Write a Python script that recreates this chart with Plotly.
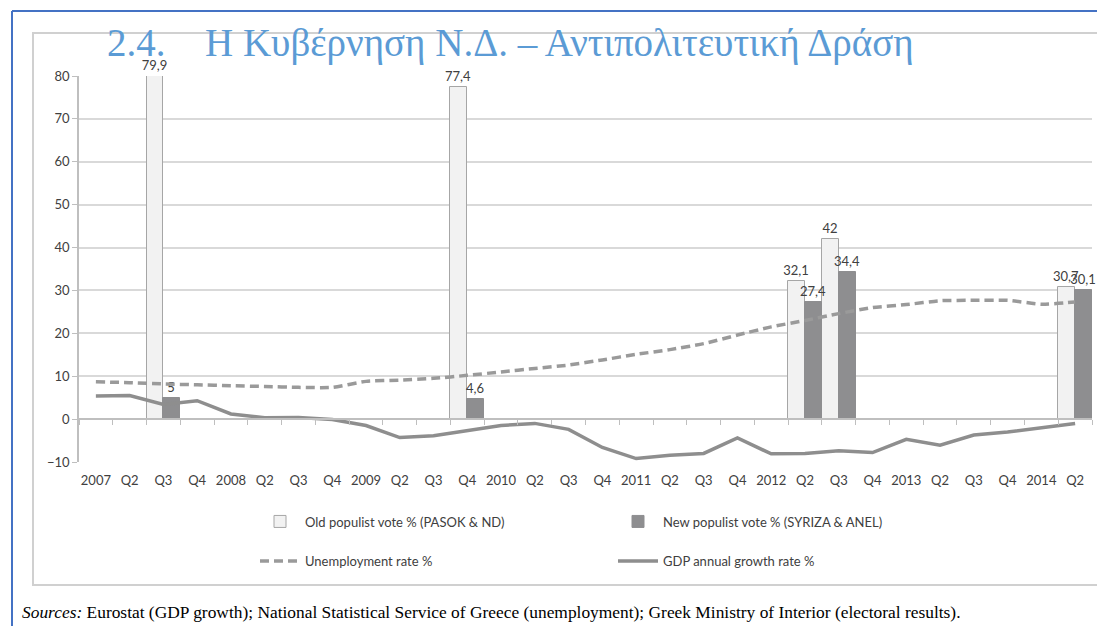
import plotly.graph_objects as go

# ---------------- data ----------------
quarters = ["2007", "Q2", "Q3", "Q4", "2008", "Q2", "Q3", "Q4", "2009", "Q2", "Q3", "Q4",
            "2010", "Q2", "Q3", "Q4", "2011", "Q2", "Q3", "Q4", "2012", "Q2", "Q3", "Q4",
            "2013", "Q2", "Q3", "Q4", "2014", "Q2"]

old_vote = [None, None, 79.9, None, None, None, None, None, None, None, None, 77.4,
            None, None, None, None, None, None, None, None, None, 32.1, 42, None,
            None, None, None, None, None, 30.7]

new_vote = [None, None, 5, None, None, None, None, None, None, None, None, 4.6,
            None, None, None, None, None, None, None, None, None, 27.4, 34.4, None,
            None, None, None, None, None, 30.1]

unemployment = [8.7, 8.5, 8.2, 8.0, 7.8, 7.6, 7.4, 7.4, 8.8, 9.1, 9.5, 10.2,
                11.0, 11.8, 12.6, 13.8, 15.1, 16.2, 17.6, 19.6, 21.5, 23.0, 24.6, 26.0,
                26.7, 27.6, 27.7, 27.7, 26.8, 27.3]

gdp_growth = [5.4, 5.5, 3.4, 4.3, 1.2, 0.3, 0.4, -0.1, -1.5, -4.3, -3.9, -2.6,
              -1.5, -1.0, -2.4, -6.6, -9.2, -8.4, -8.0, -4.4, -8.1, -8.0, -7.4, -7.8,
              -4.7, -6.1, -3.7, -3.0, -2.0, -1.0]

names = ["Old populist vote % (PASOK & ND)", "New populist vote % (SYRIZA & ANEL)",
         "Unemployment rate %", "GDP annual growth rate %"]

idx = list(range(len(quarters)))

FONT = "Lato"
TXT = "#404040"

fig = go.Figure()
fig.add_trace(go.Bar(
    x=idx, y=old_vote, name=names[0], legend="legend",
    marker=dict(color="#f2f2f2", line=dict(color="#a6a6a6", width=1)),
    texttemplate="%{y}", textposition="outside", cliponaxis=False,
    constraintext="none",
    textfont=dict(family=FONT, size=13, color=TXT)))
fig.add_trace(go.Bar(
    x=idx, y=new_vote, name=names[1], legend="legend",
    marker=dict(color="#8e8e90", line=dict(color="#8e8e90", width=1)),
    texttemplate="%{y}", textposition="outside", cliponaxis=False,
    constraintext="none",
    textfont=dict(family=FONT, size=13, color=TXT)))
fig.add_trace(go.Scatter(
    x=idx, y=unemployment, name=names[2], legend="legend2", xaxis="x2",
    mode="lines", line=dict(color="#9a9a9a", width=3.5, dash="9px,5px",
                            shape="spline", smoothing=0.6)))
fig.add_trace(go.Scatter(
    x=idx, y=gdp_growth, name=names[3], legend="legend2", xaxis="x2",
    mode="lines", line=dict(color="#8e8e8e", width=3.5)))

# The page body has an 8px margin, so the figure is drawn 8px right/down.
OFF = 8
W, H = 1105 - 2 * OFF, 634 - 2 * OFF
# plot area in screen pixels
L, R, T, B = 79, 1092, 76, 462
def px_x(p):
    return (p - L) / (R - L)
def px_y(p):
    return (B - p) / (B - T)

rng = [-0.5, len(quarters) - 0.5]
LEG = dict(orientation="h", xanchor="left", yanchor="middle",
           entrywidth=303, entrywidthmode="pixels", itemwidth=40,
           font=dict(family=FONT, size=13, color=TXT), bgcolor="rgba(0,0,0,0)")
fig.update_layout(
    width=W, height=H,
    margin=dict(l=L - OFF, r=W - (R - OFF), t=T - OFF, b=H - (B - OFF), autoexpand=False),
    paper_bgcolor="white", plot_bgcolor="white",
    separators=",.",
    barmode="group", bargap=0, bargroupgap=0,
    font=dict(family=FONT, size=13, color=TXT),
    xaxis=dict(range=rng, tickvals=idx, ticktext=quarters, showgrid=False,
               showline=False, ticks="", zeroline=False, ticklabelstandoff=9,
               tickfont=dict(family=FONT, size=13, color=TXT)),
    xaxis2=dict(range=rng, overlaying="x", anchor="free", position=px_y(419),
                showticklabels=False, showgrid=False, zeroline=False,
                showline=True, linecolor="#bfbfbf", linewidth=1.5,
                tickvals=[i - 0.5 for i in range(len(quarters) + 1)],
                ticks="outside", ticklen=5, tickcolor="#bfbfbf"),
    yaxis=dict(range=[-10, 80], dtick=10, showgrid=True, gridcolor="#d9d9d9",
               gridwidth=1.5, zeroline=False, showline=True, linecolor="#bfbfbf",
               linewidth=1.5, ticks="outside", ticklen=5, tickcolor="#bfbfbf",
               tickfont=dict(family=FONT, size=13, color=TXT)),
    legend=dict(LEG, x=px_x(255), y=px_y(521.5)),
    legend2=dict(LEG, x=px_x(255), y=px_y(561)),
    showlegend=True,
)

# frames
fig.add_shape(type="rect", xref="paper", yref="paper",
              x0=px_x(33), x1=px_x(1140), y0=px_y(585), y1=px_y(33),
              line=dict(color="#d0d0d0", width=2), layer="below")
fig.add_shape(type="line", xref="paper", yref="paper",
              x0=px_x(12), x1=px_x(1140), y0=px_y(11), y1=px_y(11),
              line=dict(color="#4472c4", width=2))
fig.add_shape(type="line", xref="paper", yref="paper",
              x0=px_x(12), x1=px_x(12), y0=px_y(11), y1=px_y(660),
              line=dict(color="#4472c4", width=2))

# title
TITLE_FONT = dict(family="Liberation Serif", size=39, color="#5b9bd5")
fig.add_annotation(text="2.4.", xref="paper", yref="paper", x=px_x(105), y=px_y(43),
                   xanchor="left", yanchor="middle", showarrow=False, font=TITLE_FONT)
fig.add_annotation(text="Η Κυβέρνηση Ν.Δ. – Αντιπολιτευτική Δράση", xref="paper",
                   yref="paper", x=px_x(203), y=px_y(43), xanchor="left",
                   yanchor="middle", showarrow=False, font=TITLE_FONT)

# sources
fig.add_annotation(text="<i>Sources:</i> Eurostat (GDP growth); National Statistical Service of Greece "
                        "(unemployment); Greek Ministry of Interior (electoral results).",
                   xref="paper", yref="paper", x=px_x(20), y=px_y(612), xanchor="left",
                   yanchor="middle", showarrow=False,
                   font=dict(family="Liberation Serif", size=17.4, color="black"))

fig.write_html("out.html")
